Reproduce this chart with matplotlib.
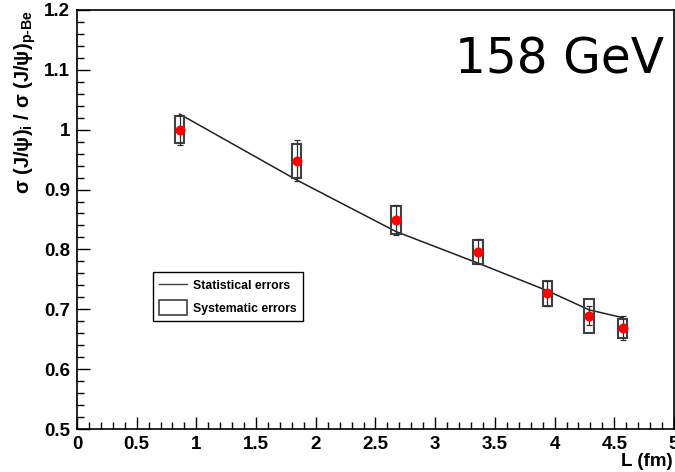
import matplotlib
matplotlib.use('Agg')
import matplotlib.pyplot as plt
from matplotlib.patches import Rectangle
from matplotlib.lines import Line2D
from matplotlib.ticker import MultipleLocator, FuncFormatter

plt.rcParams['font.family'] = ['Liberation Sans', 'DejaVu Sans']
plt.rcParams['mathtext.fontset'] = 'custom'
plt.rcParams['mathtext.rm'] = 'Liberation Sans:bold'
plt.rcParams['mathtext.bf'] = 'Liberation Sans:bold'
plt.rcParams['mathtext.it'] = 'Liberation Sans:bold'

# measured ratios vs L
L_data = [0.86, 1.84, 2.67, 3.36, 3.94, 4.29, 4.57]
ratio = [1.000, 0.948, 0.849, 0.796, 0.727, 0.689, 0.668]
stat_err = [0.025, 0.034, 0.025, 0.021, 0.021, 0.016, 0.020]
sys_err = [0.022, 0.028, 0.023, 0.020, 0.021, 0.028, 0.016]

# curve
L_curve = [0.86, 1.84, 2.67, 3.36, 3.94, 4.29, 4.57]
R_curve = [1.026, 0.916, 0.830, 0.777, 0.731, 0.699, 0.686]

box_w = 0.08

fig = plt.figure(figsize=(6.75, 4.72), dpi=100)
ax = fig.add_axes([0.114, 0.091, 0.8845, 0.888])

ax.plot(L_curve, R_curve, color='#202020', lw=1.1, zorder=2)

for x, y, s in zip(L_data, ratio, sys_err):
    ax.add_patch(Rectangle((x - box_w / 2, y - s), box_w, 2 * s, fill=False,
                           edgecolor='#404040', lw=1.5, zorder=3))

ax.errorbar(L_data, ratio, yerr=stat_err, fmt='none', ecolor='#303030',
            elinewidth=0.9, capsize=2.3, capthick=0.9, zorder=4)
ax.plot(L_data, ratio, 'o', color='red', markersize=7.2, markeredgewidth=0, zorder=5)

ax.set_xlim(0, 5)
ax.set_ylim(0.5, 1.2)
ax.xaxis.set_major_locator(MultipleLocator(0.5))
ax.xaxis.set_minor_locator(MultipleLocator(0.1))
ax.yaxis.set_major_locator(MultipleLocator(0.1))
ax.yaxis.set_minor_locator(MultipleLocator(0.02))
ax.xaxis.set_major_formatter(FuncFormatter(lambda v, p: f'{v:g}'))
ax.yaxis.set_major_formatter(FuncFormatter(lambda v, p: f'{v:g}'))
ax.tick_params(which='both', direction='in', top=False, right=False, width=1.0)
ax.tick_params(which='major', length=9, labelsize=13.5, pad=5)
ax.tick_params(which='minor', length=5)
for lab in ax.get_xticklabels() + ax.get_yticklabels():
    lab.set_fontweight('bold')
for sp in ax.spines.values():
    sp.set_linewidth(1.2)

ax.set_xlabel('L (fm)', fontsize=13.5, fontweight='bold', ha='right')
ax.xaxis.set_label_coords(0.997, -0.058)
ax.set_ylabel(r'σ (J/ψ)$_{\mathbf{i}}$ / σ (J/ψ)$_{\mathbf{p\text{-}Be}}$',
              fontsize=14.5, fontweight='bold', ha='right')
ax.yaxis.set_label_coords(-0.066, 1.0)

ax.text(0.633, 0.848, '158 GeV', transform=ax.transAxes, fontsize=35,
        family='DejaVu Sans', va='baseline', ha='left')

handles = [Line2D([], [], color='#404040', lw=1.0),
           Rectangle((0, 0), 1, 1, fill=False, edgecolor='#404040', lw=1.2)]
leg = ax.legend(handles, ['Statistical errors', 'Systematic errors'],
                loc='upper left', bbox_to_anchor=(0.127, 0.375), borderaxespad=0,
                fancybox=False, edgecolor='black', framealpha=1,
                prop={'weight': 'bold', 'size': 8.8}, handlelength=2.3,
                handleheight=1.5, labelspacing=0.6, borderpad=0.5,
                handletextpad=0.5)
leg.get_frame().set_linewidth(1.0)

fig.savefig('out.png', dpi=100)
